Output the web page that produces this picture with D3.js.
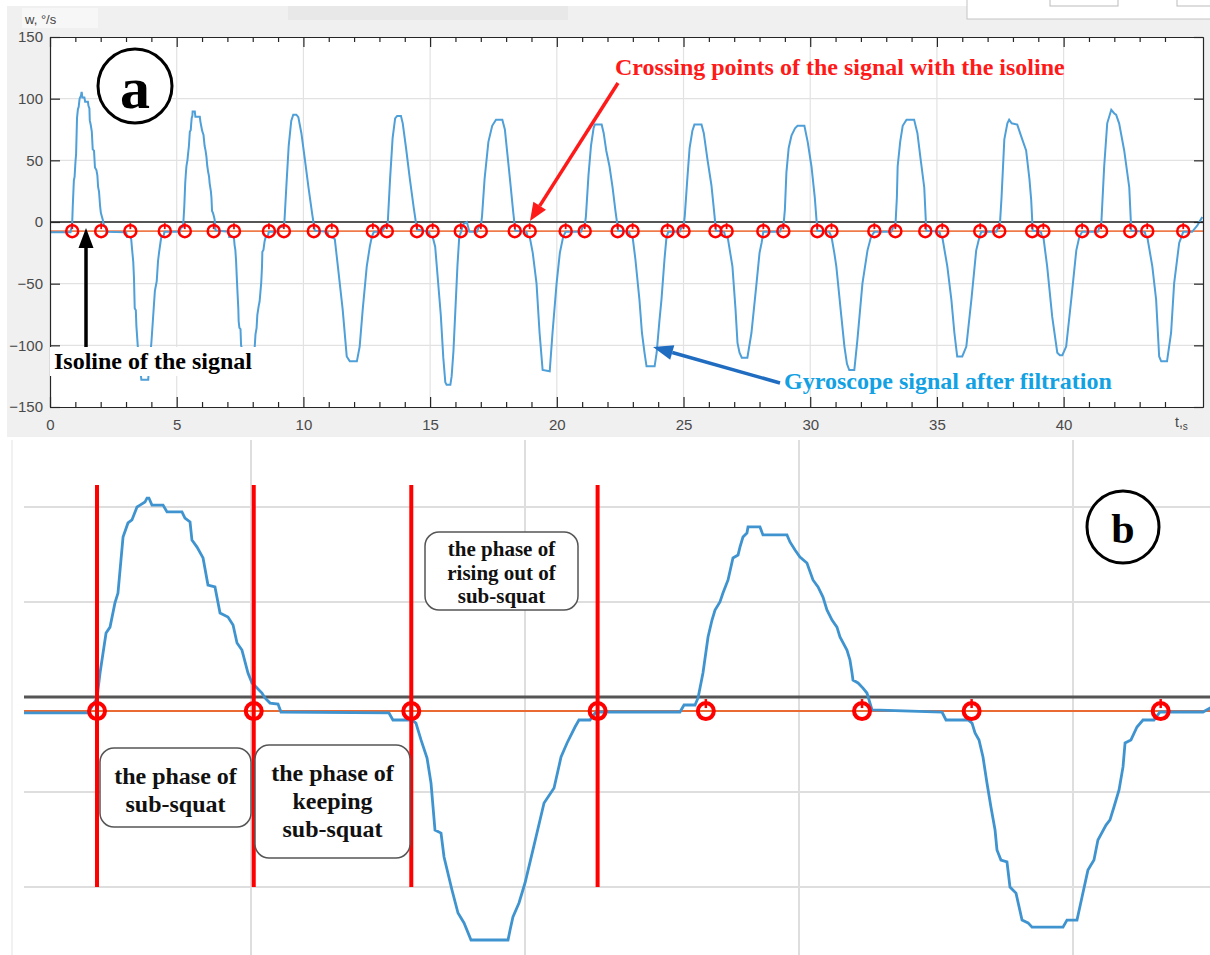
<!DOCTYPE html>
<html>
<head>
<meta charset="utf-8">
<script src="https://cdn.jsdelivr.net/npm/d3@7"></script>
<style>
  body { margin: 0; background: #fff; }
  svg { display: block; }
</style>
</head>
<body>
<svg id="fig" width="1210" height="955"></svg>
<script>
// --- signal: [t (s), w (deg/s)] ---
const cycle1 = [[0,-8.4],[0.81,-8.4],[0.84,-5],[0.876,-0.5],[0.898,12.6],[0.942,33.7],[0.971,36.8],[1.007,49.5],[1.029,54.7],[1.066,84.2],[1.102,91.6],[1.131,93.2],[1.168,100],[1.19,101],[1.226,102.6],[1.241,104.7],[1.255,104.7],[1.277,101],[1.358,101],[1.387,97.4],[1.496,97.4],[1.518,94.2],[1.555,92.1],[1.569,82.6],[1.606,78.9],[1.65,73.2],[1.686,58.9],[1.737,57.9],[1.774,44.2],[1.832,42.1],[1.869,37.9],[1.898,28.4],[1.934,24.7],[1.978,12.6],[2.007,7.4],[2.044,4.7],[2.08,2.1],[2.102,-0.5],[2.139,-3.2],[2.197,-3.7],[2.219,-7.9],
  [3.007,-8.4],[3.036,-12.1],[3.175,-12.1],[3.204,-13.7],[3.241,-22.6],[3.285,-32.1],[3.314,-45.3],[3.343,-70],[3.387,-71.6],[3.409,-84.2],[3.467,-101.6],[3.511,-113.7],[3.555,-118.9],[3.606,-127.9],[3.876,-127.9],[3.891,-122.6],[3.912,-115.8],[3.956,-108.4],[4.0,-97.9],[4.058,-80.5],[4.139,-55.8],[4.212,-47.9],[4.263,-31.6],[4.307,-24.2],[4.365,-15.8],[4.394,-12.1],[4.474,-12.1],[4.518,-7.9]];
const cycle2 = [[5.131,-7.9],[5.161,-4.2],[5.241,-4.2],[5.263,-0.5],[5.299,12.6],[5.336,31.6],[5.365,40.5],[5.387,45.8],[5.423,50],[5.445,54.7],[5.482,61.6],[5.518,73.2],[5.555,74.7],[5.569,78.9],[5.591,84.2],[5.62,86.3],[5.628,89.5],[5.715,89.5],[5.737,85.3],[5.912,85.3],[5.934,81.6],[5.971,77.4],[6.007,73.7],[6.058,70.5],[6.102,61.6],[6.139,57.9],[6.175,52.6],[6.204,45.8],[6.241,40.5],[6.277,36.8],[6.299,31.6],[6.35,24.7],[6.372,19.5],[6.387,12.6],[6.394,8.9],[6.431,7.4],[6.467,4.7],[6.496,2.1],[6.533,-6.8],
  [7.044,-7.9],[7.073,-12.1],[7.234,-12.1],[7.263,-13.7],[7.285,-18.9],[7.314,-22.6],[7.343,-31.6],[7.372,-45.3],[7.401,-57.9],[7.431,-70],[7.445,-80.5],[7.474,-85.8],[7.518,-86.8],[7.54,-100],[7.584,-103.2],[7.628,-117.4],[7.672,-118.9],[7.701,-121.1],[7.927,-121.1],[7.956,-117.4],[8.029,-117.4],[8.066,-105.3],[8.109,-91.1],[8.153,-85.8],[8.182,-75.3],[8.241,-67.4],[8.27,-64.7],[8.299,-57.9],[8.336,-48.9],[8.365,-36.8],[8.38,-24.2],[8.423,-22.6],[8.467,-15.8],[8.511,-12.1],[8.591,-12.1],[8.635,-7.9],[8.949,-7.9],[9.0,-5.8]];
const cycle3 = [[9.1,-4],[9.2,-4],[9.25,0],[9.33,30],[9.42,62],[9.52,82],[9.6,87],[9.72,87],[9.8,85],[9.92,72],[10.05,52],[10.2,28],[10.35,6],[10.45,-7],
  [10.95,-8],[11.0,-12],[11.12,-12],[11.24,-14],[11.36,-36],[11.55,-71],[11.71,-109],[11.83,-113],[12.11,-113],[12.22,-101],[12.34,-71],[12.5,-36],[12.62,-20],[12.7,-12],[12.78,-8]];
const cycle4 = [[13.1,-8],[13.2,-4],[13.29,-4],[13.33,0],[13.42,35],[13.52,68],[13.62,84],[13.7,86],[13.85,86],[13.92,80],[14.05,60],[14.2,35],[14.35,12],[14.48,-6],
  [14.95,-8],[15.0,-12],[15.1,-12],[15.2,-20],[15.3,-45],[15.42,-75],[15.52,-110],[15.6,-130],[15.65,-132],[15.8,-132],[15.85,-125],[15.92,-105],[16.0,-70],[16.08,-35],[16.15,-12],[16.22,-8],[16.3,-2],[16.45,0],[16.55,-8]];
const cycle5 = [[16.85,-8],[16.92,-4],[17.0,-4],[17.05,5],[17.15,35],[17.3,65],[17.45,78],[17.6,83],[17.85,83],[17.95,75],[18.05,55],[18.15,35],[18.28,8],[18.36,-7],
  [18.8,-8],[18.85,-12],[18.93,-12],[19.05,-25],[19.2,-50],[19.32,-90],[19.44,-120],[19.72,-121],[19.83,-90],[19.99,-50],[20.12,-25],[20.25,-12],[20.35,-8]];
const cycle6 = [[20.95,-8],[21.02,-4],[21.1,-4],[21.15,5],[21.25,38],[21.35,62],[21.45,76],[21.5,79],[21.77,79],[21.85,72],[21.95,58],[22.08,45],[22.2,28],[22.32,8],[22.42,-7],
  [22.85,-8],[22.9,-12],[22.99,-12],[23.1,-30],[23.26,-63],[23.36,-90],[23.46,-106],[23.54,-117],[23.86,-117],[23.94,-106],[24.05,-80],[24.13,-63],[24.25,-30],[24.33,-12],[24.4,-8]];
const cycle7 = [[24.85,-8],[24.92,-4],[25.0,-4],[25.05,5],[25.15,35],[25.24,60],[25.35,74],[25.43,79],[25.71,79],[25.8,72],[25.95,50],[26.1,30],[26.2,10],[26.28,-7],
  [26.6,-8],[26.65,-12],[26.74,-12],[26.93,-36],[27.05,-70],[27.13,-98],[27.21,-106],[27.3,-110],[27.52,-110],[27.68,-90],[27.88,-50],[28.0,-25],[28.08,-17],[28.15,-8]];
const cycle8 = [[28.8,-8],[28.87,-4],[28.94,-4],[29.0,10],[29.06,40],[29.15,60],[29.26,70],[29.4,76],[29.5,78],[29.77,78],[29.9,65],[30.05,45],[30.18,20],[30.28,-7],
  [30.75,-8],[30.84,-12],[30.95,-25],[31.03,-36],[31.23,-77],[31.35,-101],[31.45,-115],[31.54,-120],[31.74,-120],[31.86,-96],[32.06,-50],[32.26,-23],[32.4,-12],[32.53,-8]];
const cycle9 = [[33.2,-8],[33.28,-4],[33.36,-4],[33.42,20],[33.45,45],[33.55,65],[33.65,78],[33.8,83],[34.1,83],[34.23,72],[34.35,52],[34.5,28],[34.58,-7],
  [35.1,-8],[35.15,-12],[35.21,-12],[35.41,-36],[35.57,-63],[35.69,-90],[35.8,-109],[36.0,-109],[36.16,-101],[36.36,-63],[36.55,-23],[36.68,-12],[36.75,-8]];
const cycle10 = [[37.35,-8],[37.42,-4],[37.48,-4],[37.55,20],[37.66,67],[37.78,80],[37.85,83],[37.95,80],[38.17,79],[38.35,68],[38.52,58],[38.65,35],[38.72,18],[38.78,-7],
  [39.1,-8],[39.15,-12],[39.2,-12],[39.35,-36],[39.55,-77],[39.75,-106],[39.85,-108],[39.95,-108],[40.1,-101],[40.3,-63],[40.5,-23],[40.62,-12],[40.73,-8]];
const cycle11 = [[41.35,-8],[41.42,-4],[41.48,-4],[41.6,45],[41.72,80],[41.88,91],[42.0,88],[42.07,87],[42.19,80],[42.39,58],[42.59,28],[42.67,-7],
  [43.2,-8],[43.25,-12],[43.3,-12],[43.5,-36],[43.65,-63],[43.77,-109],[43.85,-113],[44.08,-113],[44.24,-90],[44.36,-50],[44.56,-17],[44.65,-12],[44.72,-8],[45.07,-8],[45.27,-3],[45.47,4]];

// crossing points of the signal with the isoline (s)
const crossings = [0.876,2.02,3.17,4.53,5.32,6.46,7.26,8.64,9.23,10.41,11.12,12.74,13.29,14.48,15.10,16.21,
  17.00,18.34,18.93,20.35,21.10,22.40,22.99,24.37,25.0,26.26,26.70,28.15,28.94,30.28,30.84,32.53,
  33.36,34.54,35.21,36.71,37.46,38.76,39.20,40.73,41.48,42.63,43.30,44.72];
const isolineLevel = -7.4;

const xTicksA = [0,5,10,15,20,25,30,35,40];
const yTicksA = [-150,-100,-50,0,50,100,150];
const xGridB = [2,4,6,8];
const yGridB = [100,50,-50,-100];
const phaseLabels = [
  ["the phase of","sub-squat"],
  ["the phase of","keeping","sub-squat"],
  ["the phase of","rising out of","sub-squat"]
];

const signal = [].concat(cycle1,cycle2,cycle3,cycle4,cycle5,cycle6,cycle7,cycle8,cycle9,cycle10,cycle11)
  .map(d => ({t: d[0], v: d[1]}));

const svg = d3.select("#fig");
const serif = "'Liberation Serif', 'Times New Roman', serif";
const sans = "'Liberation Sans', Arial, sans-serif";

// arrow helper
function arrow(g, x1, y1, x2, y2, color, w, hl, hw) {
  const a = Math.atan2(y2 - y1, x2 - x1);
  const bx = x2 - hl * Math.cos(a), by = y2 - hl * Math.sin(a);
  g.append("line").attr("x1", x1).attr("y1", y1).attr("x2", bx).attr("y2", by)
    .attr("stroke", color).attr("stroke-width", w);
  const px = -Math.sin(a) * hw / 2, py = Math.cos(a) * hw / 2;
  g.append("polygon")
    .attr("points", `${x2},${y2} ${bx + px},${by + py} ${bx - px},${by - py}`)
    .attr("fill", color);
}

// ================= panel a =================
svg.append("rect").attr("x", 7).attr("y", 6).attr("width", 1203).attr("height", 431).attr("fill", "#f0f0f0");
svg.append("rect").attr("x", 22).attr("y", 8).attr("width", 76).attr("height", 20).attr("fill", "#f7f7f7");
svg.append("rect").attr("x", 288).attr("y", 6).attr("width", 280).attr("height", 14).attr("fill", "#e8e8e8");
svg.append("rect").attr("x", 967).attr("y", -2).attr("width", 250).attr("height", 21)
  .attr("fill", "#fff").attr("stroke", "#c4c4c4");
svg.append("rect").attr("x", 1050).attr("y", -2).attr("width", 68).attr("height", 8)
  .attr("fill", "#fff").attr("stroke", "#bbb");
svg.append("rect").attr("x", 1177).attr("y", -2).attr("width", 40).attr("height", 8)
  .attr("fill", "#fff").attr("stroke", "#bbb");

const xa = d3.scaleLinear().domain([0, 45.5]).range([50, 1203]);
const ya = d3.scaleLinear().domain([-150, 150]).range([407, 37]);
const ga = svg.append("g");

ga.append("rect").attr("x", xa(0)).attr("y", ya(150))
  .attr("width", xa(45.5) - xa(0)).attr("height", ya(-150) - ya(150)).attr("fill", "#fff");

// grid
ga.selectAll("line.gx").data(xTicksA.slice(1)).enter().append("line")
  .attr("x1", d => xa(d)).attr("x2", d => xa(d)).attr("y1", ya(150)).attr("y2", ya(-150))
  .attr("stroke", "#e2e2e2").attr("stroke-width", 1.2);
ga.selectAll("line.gy").data(yTicksA.slice(1, -1)).enter().append("line")
  .attr("x1", xa(0)).attr("x2", xa(45.5)).attr("y1", d => ya(d)).attr("y2", d => ya(d))
  .attr("stroke", "#e2e2e2").attr("stroke-width", 1.2);

ga.append("clipPath").attr("id", "clipA").append("rect")
  .attr("x", xa(0)).attr("y", ya(150)).attr("width", xa(45.5) - xa(0)).attr("height", ya(-150) - ya(150));
const pa = ga.append("g").attr("clip-path", "url(#clipA)");

pa.append("line").attr("x1", xa(0)).attr("x2", xa(45.5)).attr("y1", ya(0)).attr("y2", ya(0))
  .attr("stroke", "#555").attr("stroke-width", 1.8);
pa.append("line").attr("x1", xa(0)).attr("x2", xa(45.5)).attr("y1", ya(isolineLevel)).attr("y2", ya(isolineLevel))
  .attr("stroke", "#ef7a4a").attr("stroke-width", 1.6);

const lineA = d3.line().x(d => xa(d.t)).y(d => ya(d.v));
pa.append("path").datum(signal).attr("d", lineA)
  .attr("fill", "none").attr("stroke", "#4f9fd8").attr("stroke-width", 2);

const mA = pa.selectAll("g.ma").data(crossings).enter().append("g")
  .attr("transform", d => `translate(${xa(d)},${ya(isolineLevel)})`);
mA.append("circle").attr("r", 6).attr("fill", "none").attr("stroke", "#ff0000").attr("stroke-width", 2.5);
mA.append("line").attr("x1", 0).attr("x2", 0).attr("y1", -8).attr("y2", -2)
  .attr("stroke", "#ff0000").attr("stroke-width", 1.8);

// axes (inward ticks, box on)
function styleAxis(sel) {
  sel.select(".domain").attr("stroke", "#262626").attr("stroke-width", 1.2);
  sel.selectAll(".tick line").attr("stroke", "#262626").attr("stroke-width", 1.2);
  sel.selectAll("text").attr("font-family", sans).attr("font-size", 15).attr("fill", "#4a4a4a");
}
const minorX = d3.range(0, 46).filter(d => d % 5 !== 0);
ga.append("g").attr("transform", `translate(0,${ya(-150)})`)
  .call(d3.axisBottom(xa).tickValues(xTicksA).tickSize(-10).tickPadding(12).tickSizeOuter(0))
  .call(styleAxis);
ga.append("g").attr("transform", `translate(0,${ya(-150)})`)
  .call(d3.axisBottom(xa).tickValues(minorX).tickSize(-5).tickFormat("").tickSizeOuter(0))
  .call(styleAxis);
ga.append("g").attr("transform", `translate(0,${ya(150)})`)
  .call(d3.axisTop(xa).tickValues(xTicksA).tickSize(-10).tickFormat("").tickSizeOuter(0))
  .call(styleAxis);
ga.append("g").attr("transform", `translate(0,${ya(150)})`)
  .call(d3.axisTop(xa).tickValues(minorX).tickSize(-5).tickFormat("").tickSizeOuter(0))
  .call(styleAxis);
ga.append("g").attr("transform", `translate(${xa(0)},0)`)
  .call(d3.axisLeft(ya).tickValues(yTicksA).tickSize(-10).tickPadding(7).tickSizeOuter(0))
  .call(styleAxis);
ga.append("g").attr("transform", `translate(${xa(45.5)},0)`)
  .call(d3.axisRight(ya).tickValues(yTicksA).tickSize(-9).tickFormat("").tickSizeOuter(0))
  .call(styleAxis);

// axis titles
svg.append("text").attr("x", 25).attr("y", 24).attr("font-family", sans).attr("font-size", 13)
  .attr("fill", "#444").text("w, °/s");
const tl = svg.append("text").attr("x", 1175).attr("y", 427).attr("font-family", sans)
  .attr("font-size", 14).attr("fill", "#444");
tl.append("tspan").text("t,");
tl.append("tspan").attr("font-size", 10).attr("dy", 3).text("s");

// annotations in panel a
const an = svg.append("g");
an.append("circle").attr("cx", 135).attr("cy", 86).attr("r", 37)
  .attr("fill", "#fff").attr("stroke", "#000").attr("stroke-width", 3);
an.append("text").attr("x", 135).attr("y", 108).attr("text-anchor", "middle")
  .attr("font-family", serif).attr("font-weight", "bold").attr("font-size", 60).text("a");

an.append("text").attr("x", 615).attr("y", 75).attr("font-family", serif).attr("font-weight", "bold")
  .attr("font-size", 24).attr("fill", "#ff1a1a").text("Crossing points of the signal with the isoline");
arrow(an, 618, 83, 530, 221, "#ff1a1a", 3.5, 18, 15);

an.append("rect").attr("x", 50).attr("y", 347).attr("width", 206).attr("height", 29).attr("fill", "#fff");
an.append("text").attr("x", 54).attr("y", 369).attr("font-family", serif).attr("font-weight", "bold")
  .attr("font-size", 24).attr("fill", "#000").text("Isoline of the signal");
arrow(an, 86, 347, 86, 228, "#000", 3.5, 20, 15);

an.append("text").attr("x", 784).attr("y", 389).attr("font-family", serif).attr("font-weight", "bold")
  .attr("font-size", 24).attr("fill", "#12a1e3").text("Gyroscope signal after filtration");
arrow(an, 780, 383, 653, 347, "#1f6cc0", 3.5, 20, 15);

// ================= panel b =================
const xb = d3.scaleLinear().domain([2, 8]).range([251, 1073]);
const yb = d3.scaleLinear().domain([100, -100]).range([507, 887]);
const gb = svg.append("g");

gb.append("line").attr("x1", 12).attr("x2", 12).attr("y1", 440).attr("y2", 955)
  .attr("stroke", "#ececec").attr("stroke-width", 1.5);
gb.selectAll("line.vx").data(xGridB).enter().append("line")
  .attr("x1", d => xb(d)).attr("x2", d => xb(d)).attr("y1", 440).attr("y2", 955)
  .attr("stroke", "#dedede").attr("stroke-width", 2);
gb.selectAll("line.hy").data(yGridB).enter().append("line")
  .attr("x1", 24).attr("x2", 1210).attr("y1", d => yb(d)).attr("y2", d => yb(d))
  .attr("stroke", "#dedede").attr("stroke-width", 2);

gb.append("clipPath").attr("id", "clipB").append("rect")
  .attr("x", 24).attr("y", 440).attr("width", 1186).attr("height", 515);
const pb = gb.append("g").attr("clip-path", "url(#clipB)");

pb.append("line").attr("x1", 24).attr("x2", 1210).attr("y1", yb(0)).attr("y2", yb(0))
  .attr("stroke", "#555").attr("stroke-width", 3);
pb.append("line").attr("x1", 24).attr("x2", 1210).attr("y1", yb(isolineLevel)).attr("y2", yb(isolineLevel))
  .attr("stroke", "#ea6a34").attr("stroke-width", 2);

const lineB = d3.line().x(d => xb(d.t)).y(d => yb(d.v));
pb.append("path").datum(signal.filter(d => d.t <= 9.3)).attr("d", lineB)
  .attr("fill", "none").attr("stroke", "#3f94d0").attr("stroke-width", 2.8);

// phase boundaries: the first four crossings
const phaseTop = 485;
pb.selectAll("line.phase").data(crossings.slice(0, 4)).enter().append("line")
  .attr("x1", d => xb(d)).attr("x2", d => xb(d)).attr("y1", phaseTop).attr("y2", yb(-100))
  .attr("stroke", "#ff0000").attr("stroke-width", 4);

const mB = pb.selectAll("g.mb").data(crossings.filter(d => d <= 9)).enter().append("g")
  .attr("transform", d => `translate(${xb(d)},${yb(isolineLevel)})`);
mB.append("circle").attr("r", 8).attr("fill", "none").attr("stroke", "#ff0000").attr("stroke-width", 4);
mB.append("line").attr("x1", 0).attr("x2", 0).attr("y1", -12).attr("y2", -3)
  .attr("stroke", "#ff0000").attr("stroke-width", 2.5);

// phase boxes
const boxes = [
  {x: 100, y: 748, w: 151, h: 79, base: 784, fs: 24, lh: 28},
  {x: 255, y: 745, w: 155, h: 113, base: 781, fs: 24, lh: 28},
  {x: 425, y: 532, w: 153, h: 78, base: 556, fs: 21, lh: 23.5}
];
boxes.forEach((b, i) => {
  gb.append("rect").attr("x", b.x).attr("y", b.y).attr("width", b.w).attr("height", b.h)
    .attr("rx", 14).attr("fill", "#fff").attr("stroke", "#555").attr("stroke-width", 1.5);
  gb.append("g").selectAll("text").data(phaseLabels[i]).enter().append("text")
    .attr("x", b.x + b.w / 2).attr("y", (d, j) => b.base + j * b.lh)
    .attr("text-anchor", "middle").attr("font-family", serif).attr("font-weight", "bold")
    .attr("font-size", b.fs).attr("fill", "#111").text(d => d);
});

gb.append("circle").attr("cx", 1123).attr("cy", 527).attr("r", 36)
  .attr("fill", "#fff").attr("stroke", "#000").attr("stroke-width", 3);
gb.append("text").attr("x", 1123).attr("y", 543).attr("text-anchor", "middle")
  .attr("font-family", serif).attr("font-weight", "bold").attr("font-size", 42).text("b");
</script>
</body>
</html>
